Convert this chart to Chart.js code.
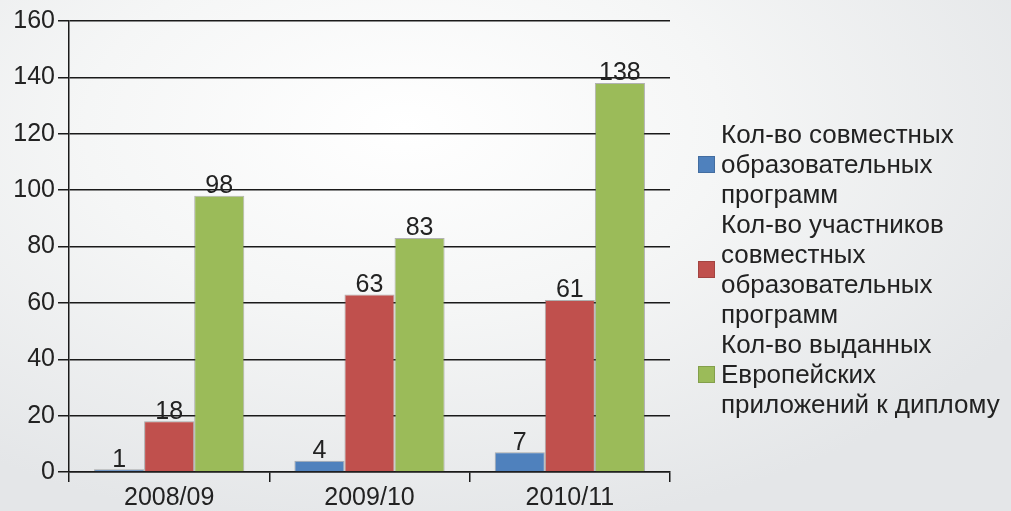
<!DOCTYPE html>
<html lang="ru">
<head>
    <meta charset="UTF-8">
    <title>Совместные образовательные программы</title>
    <script src="https://cdn.jsdelivr.net/npm/chart.js"></script>
    <style>
        html, body { margin: 0; padding: 0; }
        body {
            width: 1011px; height: 511px; overflow: hidden; position: relative;
            background: radial-gradient(ellipse 70% 80% at 40% 25%, #ffffff 0%, #f5f6f6 45%, #e4e6e8 100%);
            font-family: "Liberation Sans", Arial, sans-serif;
        }
        #wrap { position: absolute; left: 0; top: 0; width: 1011px; height: 511px; }
        #legend { position: absolute; left: 698px; top: 119px; color: #222; font-size: 26px; line-height: 30px; }
        .entry { display: flex; align-items: center; }
        .box { width: 17px; height: 17px; margin-right: 6px; flex: none; box-sizing: border-box; border: 1px solid rgba(0,0,0,0.15); }
    </style>
</head>
<body>
    <div id="wrap"><canvas id="chart" width="1011" height="511"></canvas></div>
    <div id="legend"></div>

    <script>
        const categories = ['2008/09', '2009/10', '2010/11'];
        const programs = [1, 4, 7];
        const participants = [18, 63, 61];
        const supplements = [98, 83, 138];
        const seriesNames = [
            ['Кол-во совместных', 'образовательных', 'программ'],
            ['Кол-во участников', 'совместных', 'образовательных', 'программ'],
            ['Кол-во выданных', 'Европейских', 'приложений к диплому']
        ];
        const seriesColors = ['#4f81bd', '#c0504d', '#9bbb59'];
        const yMax = 160;
        const yStep = 20;

        const textColor = '#222';
        const fontSpec = { family: '"Liberation Sans", Arial, sans-serif', size: 25 };

        // value labels above each bar
        const valueLabels = {
            id: 'valueLabels',
            afterDatasetsDraw(chart) {
                const ctx = chart.ctx;
                ctx.save();
                ctx.font = '25px "Liberation Sans", Arial, sans-serif';
                ctx.fillStyle = textColor;
                ctx.textAlign = 'center';
                ctx.textBaseline = 'bottom';
                chart.data.datasets.forEach((ds, i) => {
                    chart.getDatasetMeta(i).data.forEach((bar, j) => {
                        ctx.fillText(ds.data[j], bar.x, bar.y + 3);
                    });
                });
                ctx.restore();
            }
        };

        const seriesData = [programs, participants, supplements];

        new Chart(document.getElementById('chart'), {
            type: 'bar',
            data: {
                labels: categories,
                datasets: seriesData.map((d, i) => ({
                    label: seriesNames[i].join(' '),
                    data: d,
                    backgroundColor: seriesColors[i],
                    borderColor: 'rgba(90,90,90,0.45)',
                    borderWidth: 1,
                    categoryPercentage: 0.75,
                    barPercentage: 1.0
                }))
            },
            options: {
                responsive: false,
                animation: false,
                layout: { padding: { top: 21, right: 341, left: 0, bottom: 0 } },
                plugins: { legend: { display: false }, tooltip: { enabled: false } },
                scales: {
                    x: {
                        grid: { drawOnChartArea: false, drawTicks: true, tickLength: 10, color: '#1a1a1a', lineWidth: 1.5, offset: true },
                        border: { color: '#1a1a1a', width: 1.5 },
                        ticks: { color: textColor, font: fontSpec, padding: 1 },
                        afterFit(scale) { scale.height = 39; }
                    },
                    y: {
                        min: 0, max: yMax,
                        grid: { color: '#1a1a1a', lineWidth: 1.5, tickLength: 11 },
                        border: { color: '#1a1a1a', width: 1.5 },
                        ticks: { stepSize: yStep, color: textColor, font: fontSpec, padding: 3 },
                        afterFit(scale) { scale.width = 69; }
                    }
                }
            },
            plugins: [valueLabels]
        });

        // legend with multi-line names
        const legend = document.getElementById('legend');
        seriesNames.forEach((lines, i) => {
            const entry = document.createElement('div');
            entry.className = 'entry';
            const box = document.createElement('div');
            box.className = 'box';
            box.style.background = seriesColors[i];
            const txt = document.createElement('div');
            txt.innerHTML = lines.join('<br>');
            entry.appendChild(box);
            entry.appendChild(txt);
            legend.appendChild(entry);
        });
    </script>
</body>
</html>
